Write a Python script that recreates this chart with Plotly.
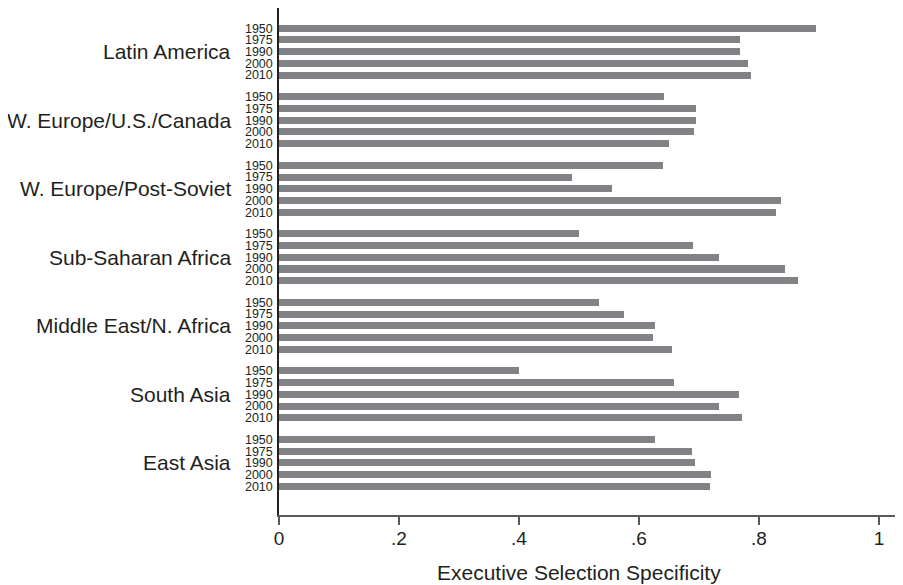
import plotly.graph_objects as go

regions = ["Latin America", "W. Europe/U.S./Canada", "W. Europe/Post-Soviet",
           "Sub-Saharan Africa", "Middle East/N. Africa", "South Asia", "East Asia"]
years = ["1950", "1975", "1990", "2000", "2010"]

latin_america = [0.895, 0.768, 0.768, 0.782, 0.787]
w_europe_us_canada = [0.642, 0.695, 0.695, 0.692, 0.650]
w_europe_post_soviet = [0.640, 0.488, 0.555, 0.837, 0.828]
sub_saharan_africa = [0.500, 0.690, 0.733, 0.843, 0.865]
middle_east_n_africa = [0.533, 0.575, 0.627, 0.623, 0.655]
south_asia = [0.400, 0.658, 0.767, 0.733, 0.772]
east_asia = [0.627, 0.688, 0.693, 0.720, 0.718]

series = [latin_america, w_europe_us_canada, w_europe_post_soviet,
          sub_saharan_africa, middle_east_n_africa, south_asia, east_asia]

x_ticks = [0, 0.2, 0.4, 0.6, 0.8, 1.0]
x_ticktext = ["0", ".2", ".4", ".6", ".8", "1"]

GAP = 1.85  # extra spacing between region groups (in bar slots)
group_step = (len(years) - 1) + GAP

ys, xs, ylabels = [], [], []
for i, vals in enumerate(series):
    for j, v in enumerate(vals):
        ys.append(i * group_step + j)
        xs.append(v)
        ylabels.append(years[j])

FONT = "Liberation Sans, Arial, Helvetica, sans-serif"
TXT = "#231f20"

fig = go.Figure()
fig.add_trace(go.Bar(
    x=xs, y=ys, orientation="h", width=0.6,
    marker=dict(color="#818286", line=dict(width=0)),
    showlegend=False, hoverinfo="x",
))

annotations = []
for i, r in enumerate(regions):
    annotations.append(dict(
        text=r, x=0, xref="paper", xanchor="right", xshift=-46,
        y=i * group_step + (len(years) - 1) / 2, yref="y", yanchor="middle",
        showarrow=False, font=dict(family=FONT, size=21, color=TXT),
    ))
annotations.append(dict(
    text="Executive Selection Specificity", x=0.48, xref="paper", xanchor="center",
    y=0, yref="paper", yanchor="middle", yshift=-57, showarrow=False,
    font=dict(family=FONT, size=21, color=TXT),
))

last = (len(series) - 1) * group_step + (len(years) - 1)
fig.update_layout(
    width=895, height=577,
    margin=dict(l=271, r=0, t=0, b=70),
    paper_bgcolor="white", plot_bgcolor="white",
    bargap=0,
    annotations=annotations,
    xaxis=dict(
        range=[0, 1.04], tickvals=x_ticks, ticktext=x_ticktext,
        showgrid=False, zeroline=False,
        showline=True, linecolor="#5a5a5a", linewidth=2,
        ticks="outside", ticklen=8, tickwidth=1.5, tickcolor="#5a5a5a",
        ticklabelstandoff=-3,
        tickfont=dict(family=FONT, size=19, color=TXT),
    ),
    yaxis=dict(
        range=[last + 2.45, -1.73], tickvals=ys, ticktext=ylabels,
        showgrid=False, zeroline=False,
        showline=True, linecolor="#231f20", linewidth=1.5,
        ticks="", ticklabelstandoff=2,
        tickfont=dict(family=FONT, size=12.5, color=TXT),
    ),
)

fig.write_html("out.html")
